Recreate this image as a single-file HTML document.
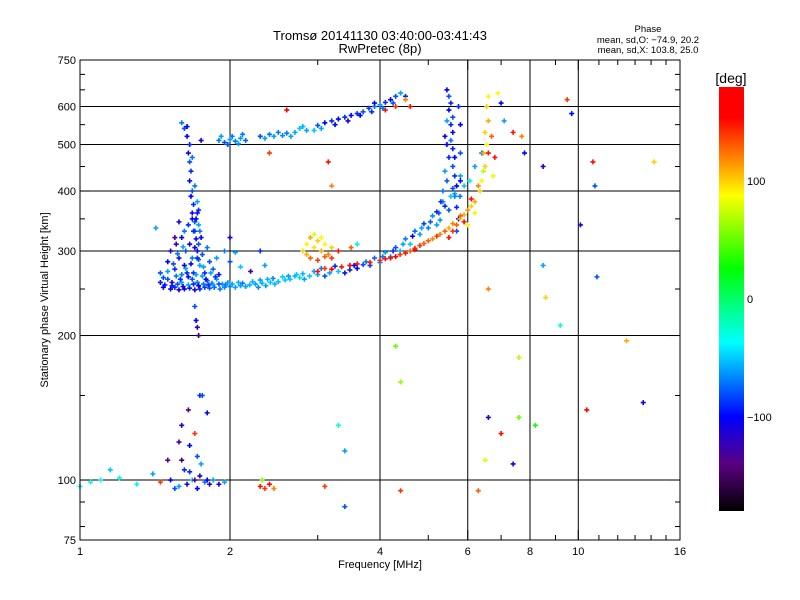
<!DOCTYPE html>
<html><head><meta charset="utf-8"><style>
body{margin:0;background:#fff;}
svg{display:block;font-family:"Liberation Sans",sans-serif;}
</style></head><body>
<svg id="chart" width="800" height="600" viewBox="0 0 800 600">
<rect width="800" height="600" fill="#fff"/>
<text x="380" y="40" font-size="13" text-anchor="middle">Tromsø 20141130 03:40:00-03:41:43</text>
<text x="380" y="53" font-size="13" text-anchor="middle">RwPretec (8p)</text>
<text x="648" y="32" font-size="9.5" text-anchor="middle">Phase</text>
<text x="648" y="43" font-size="9.5" text-anchor="middle">mean, sd,O: −74.9, 20.2</text>
<text x="648" y="53" font-size="9.5" text-anchor="middle">mean, sd,X: 103.8, 25.0</text>
<text x="380" y="568" font-size="11" text-anchor="middle">Frequency [MHz]</text>
<text x="48" y="300" font-size="11" text-anchor="middle" transform="rotate(-90 48 300)">Stationary phase Virtual Height [km]</text>
<g id="grid"></g>
<g id="marks"></g>
<g id="axes"></g>
<g id="cbar"></g>
<text x="731" y="83" font-size="14" text-anchor="middle">[deg]</text>
</svg>
<script>
const xTicks=[1,2,4,6,8,10,16];
const yTicks=[75,100,200,300,400,500,600,750];
const xGrid=[2,4,6,8,10];
const yGrid=[100,200,300,400,500,600];
const cbTicks=[100,0,-100];
// O-mode low trace [freq MHz, height km, phase deg]
const traceLow=[[1.45,258,-95],[1.48,255,-95],[1.5,262,-80],[1.52,250,-110],[1.55,252,-90],[1.56,266,-70],[1.58,249,-105],[1.6,258,-60],[1.62,250,-100],[1.64,270,-90],[1.66,251,-95],[1.68,262,-80],[1.70,249,-110],[1.72,258,-70],[1.74,250,-90],[1.76,266,-60],[1.78,252,-85],[1.8,260,-75],[1.82,251,-80],[1.84,257,-70],[1.86,252,-75],[1.88,262,-60],[1.91,250,-70],[1.93,256,-60],[1.95,252,-65],[1.98,258,-60],[2.0,253,-70],[2.05,252,-60],[2.08,258,-55],[2.10,254,-60],[2.15,253,-60],[2.19,255,-55],[2.25,256,-60],[2.28,252,-65],[2.32,257,-55],[2.36,254,-60],[2.41,258,-50],[2.46,256,-55],[2.50,259,-55],[2.58,261,-50],[2.64,262,-50],[2.7,266,-55],[2.76,264,-45],[2.82,262,-60],[2.89,266,-50],[3.0,268,-60],[3.1,266,-80],[3.17,270,-60],[3.3,272,-50],[3.4,270,-95],[3.48,274,-90],[3.6,276,-100],[3.7,281,-80],[3.82,280,-85],[3.9,290,-75],[4.0,284,-70],[4.1,298,-60],[4.2,292,-60],[4.3,305,-80],[4.39,300,-55],[4.5,318,-70],[4.6,310,-50],[4.7,330,-75],[4.81,325,-60],[4.9,342,-85],[5.0,335,-70],[5.1,355,-65],[5.28,348,-60],[5.4,372,-90],[5.5,365,-80],[5.65,395,-60],[5.79,390,-70],[5.9,410,-50],[6.06,420,-40],[6.2,450,-60],[6.4,480,-70]];
const traceLow2=[[1.47,252,-100],[1.53,254,-90],[1.57,256,-80],[1.61,253,-110],[1.65,255,-60],[1.69,256,-90],[1.73,254,-100],[1.77,256,-70],[1.81,255,-90],[1.85,255,-60],[1.9,256,-80],[1.96,255,-70],[2.02,256,-60],[2.12,257,-70],[2.22,259,-55],[2.3,261,-60],[2.38,262,-55],[2.44,263,-65],[2.55,265,-50],[2.62,266,-60],[2.72,268,-50],[2.8,269,-55],[2.95,272,-60],[3.05,276,-70],[3.25,279,-90],[3.55,280,-100],[3.75,285,-70],[4.05,292,-70],[4.25,300,-90],[4.45,310,-60],[4.65,322,-100],[4.85,335,-60],[5.05,345,-80],[5.2,362,-90],[5.35,380,-60],[5.6,405,-80],[5.8,430,-60]];
// Low-frequency cluster near 1.5-1.9 MHz
const clusterLF=[[1.45,270,-80],[1.5,285,-100],[1.52,300,-110],[1.55,275,-90],[1.56,310,-120],[1.58,290,-95],[1.6,268,-70],[1.6,320,-100],[1.62,280,-110],[1.63,300,-80],[1.65,265,-100],[1.65,340,-90],[1.66,310,-110],[1.68,290,-70],[1.69,270,-90],[1.7,330,-80],[1.72,300,-100],[1.72,360,-95],[1.74,280,-60],[1.75,320,-100],[1.76,295,-80],[1.78,270,-90],[1.8,305,-70],[1.82,285,-80],[1.85,275,-75],[1.88,290,-60],[1.9,268,-95],[1.95,300,-70],[2.0,285,-80],[2.05,298,-60],[2.1,278,-50],[2.0,320,-110],[2.2,272,-130],[2.3,300,-90],[2.35,280,-60],[1.42,335,-60],[1.47,264,-80],[1.53,258,-120],[1.5,272,-60],[1.54,282,-80],[1.57,296,-70],[1.59,262,-90],[1.61,306,-60],[1.63,276,-60],[1.67,282,-100],[1.71,268,-60],[1.73,288,-80],[1.77,278,-60],[1.79,262,-100],[1.83,270,-60],[1.87,265,-90],[1.62,330,-70],[1.68,350,-100],[1.73,340,-60],[1.55,320,-130],[1.58,345,-110]];
// Vertical band near 1.65 MHz
const vertLF=[[1.62,540,-80],[1.64,520,-100],[1.66,500,-90],[1.65,480,-110],[1.66,460,-80],[1.67,440,-90],[1.66,420,-100],[1.68,400,-80],[1.67,390,-100],[1.69,375,-90],[1.68,360,-110],[1.7,345,-80],[1.69,330,-90],[1.71,318,-100],[1.7,305,-110],[1.72,290,-90],[1.7,230,-80],[1.71,215,-100],[1.72,208,-120],[1.73,200,-150],[1.6,555,-70],[1.75,510,-110],[1.7,410,-70],[1.72,380,-60],[1.73,365,-90],[1.71,350,-100],[1.74,330,-70],[1.73,310,-80],[1.68,470,-70],[1.64,545,-100]];
// Upper trace
const traceHigh=[[1.9,510,-70],[1.95,505,-80],[2.0,512,-60],[2.05,508,-70],[2.1,515,-60],[2.15,510,-75],[2.3,520,-80],[2.4,525,-70],[2.45,520,-60],[2.55,522,-65],[2.6,528,-70],[2.7,530,-60],[2.76,540,-50],[2.85,535,-60],[2.95,535,-50],[3.0,548,-80],[3.1,555,-100],[3.2,560,-90],[3.3,565,-100],[3.4,570,-90],[3.5,575,-100],[3.6,580,-90],[3.7,585,-80],[3.8,595,-85],[3.9,600,-70],[4.0,605,-60],[4.1,612,-90],[4.2,620,-100],[4.3,630,-80],[4.4,640,-60],[4.5,630,-90],[4.1,590,150],[4.3,600,140],[4.5,620,120],[3.9,610,-100],[1.92,520,-60],[1.98,500,-80],[2.02,520,-70],[2.08,502,-60],[2.12,525,-70],[2.35,515,-60],[2.5,530,-70],[2.65,520,-60],[2.8,545,-55],[3.05,540,-60],[3.25,550,-100],[3.45,560,-110],[3.65,575,-100],[3.85,585,-90],[4.05,595,-70],[4.25,610,-80],[4.6,600,150]];
// Vertical band near 5.5 MHz
const vertHF=[[5.45,650,-100],[5.5,630,-80],[5.55,610,-90],[5.5,590,-100],[5.6,570,-80],[5.55,550,-90],[5.6,530,-110],[5.55,510,-70],[5.6,490,-90],[5.65,470,-100],[5.6,450,-80],[5.65,430,-90],[5.7,410,-100],[5.65,390,-70],[5.7,370,-90],[5.75,350,-100],[5.7,330,-80],[5.45,500,-100],[5.5,470,-90],[5.4,440,-60],[5.45,420,-80],[5.35,400,-70],[5.3,380,-90],[5.25,360,-80],[5.45,560,-60],[5.4,520,-110],[5.75,600,-90],[5.8,550,-100],[5.8,480,-80],[5.8,420,-100],[5.2,340,-60],[5.55,390,-50]];
// X-mode trace (orange/red/yellow)
const traceX=[[3.0,272,150],[3.1,276,140],[3.2,275,160],[3.35,278,150],[3.48,280,155],[3.6,282,150],[3.82,284,150],[4.0,287,145],[4.1,289,150],[4.2,290,150],[4.39,295,140],[4.5,297,150],[4.6,300,130],[4.7,304,140],[4.81,308,140],[4.9,311,130],[5.0,315,130],[5.1,318,120],[5.28,325,120],[5.4,330,130],[5.5,335,110],[5.6,342,120],[5.79,350,100],[5.9,357,110],[6.0,365,120],[6.1,372,100],[6.2,380,110],[6.35,400,100],[5.5,320,150],[5.6,330,140],[5.7,340,130],[5.9,345,150],[6.0,340,90],[6.2,360,80],[6.4,420,90],[6.5,450,100],[6.45,480,110],[6.55,500,90],[6.5,530,100],[6.6,560,110],[6.55,600,100],[6.6,630,90],[6.7,520,130],[6.8,470,150],[6.75,430,80],[4.3,292,160],[4.7,302,150],[5.2,322,140],[5.8,355,130],[6.1,385,150],[6.3,410,120],[6.45,440,70]];
// Yellow cluster near 3 MHz
const clusterY=[[2.8,300,100],[2.85,310,90],[2.9,320,110],[2.95,305,95],[3.0,315,100],[3.05,300,110],[3.1,310,90],[3.15,295,120],[3.2,305,100],[2.9,290,130],[3.0,287,140],[3.1,292,130],[3.3,300,150],[3.5,305,130],[3.6,310,-40],[2.85,295,110],[2.95,325,80],[3.05,320,90],[3.2,290,140]];
// Low-altitude cluster and scattered points
const clusterLow=[[1.0,97,-40],[1.05,99,-30],[1.1,100,-40],[1.15,105,-50],[1.2,101,-30],[1.3,98,-40],[1.4,103,-60],[1.45,99,140],[1.5,110,-140],[1.52,100,-100],[1.55,96,-80],[1.58,120,-130],[1.6,130,-120],[1.62,105,-90],[1.64,98,-110],[1.65,140,-140],[1.66,118,-100],[1.68,100,-50],[1.7,125,140],[1.72,112,-80],[1.74,102,-110],[1.76,150,-80],[1.78,99,-70],[1.8,138,-100],[1.82,98,-120],[1.85,100,-60],[1.6,110,-150],[1.7,100,-140],[1.75,108,-60],[2.3,97,150],[2.35,96,140],[2.4,98,170],[2.45,96,120],[2.32,100,60],[1.58,97,-60],[1.66,104,-90],[1.72,96,-100],[1.8,100,-100],[1.9,98,-110],[1.95,99,-60],[1.74,150,-90]];
const scatter=[[2.4,480,140],[3.15,460,150],[3.2,410,120],[2.6,590,170],[4.3,190,50],[4.4,160,60],[4.4,95,140],[3.4,88,-80],[3.4,115,-60],[3.3,130,-30],[3.1,97,140],[6.6,480,150],[6.6,250,120],[6.6,135,-120],[6.5,110,80],[7.0,125,150],[7.4,108,-110],[7.4,530,150],[7.7,520,120],[7.8,480,-100],[7.6,180,70],[7.6,135,50],[8.2,130,30],[8.5,450,-120],[8.5,280,-60],[8.6,240,100],[9.2,210,-30],[9.5,620,140],[9.7,580,-100],[10.1,340,-120],[10.7,460,150],[10.8,410,-80],[10.4,140,170],[10.9,265,-80],[12.5,195,110],[13.5,145,-110],[14.2,460,100],[6.3,95,130],[7.1,560,-60],[7.0,610,-100],[6.9,640,90]];
const allSeries=[traceLow,traceLow2,clusterLF,vertLF,traceHigh,vertHF,traceX,clusterY,clusterLow,scatter];

const L=80,R=680,T=60,B=540;
function xs(f){return L+Math.log2(f)/Math.log2(16)*(R-L);}
function ys(h){return B-Math.log10(h/75)/Math.log10(10)*(B-T);}
const stops=[[-180,0,0,0],[-140,90,0,130],[-100,0,0,255],[-37,0,255,255],[26,0,255,0],[88,255,255,0],[154,255,0,0],[180,255,0,0]];
function cmap(v){v=Math.max(-180,Math.min(180,v));for(let i=0;i<stops.length-1;i++){const a=stops[i],b=stops[i+1];if(v<=b[0]){const t=(v-a[0])/(b[0]-a[0]);return `rgb(${Math.round(a[1]+t*(b[1]-a[1]))},${Math.round(a[2]+t*(b[2]-a[2]))},${Math.round(a[3]+t*(b[3]-a[3]))})`;}}return 'red';}
const NS='http://www.w3.org/2000/svg';
function mk(tag,attrs,parent){const e=document.createElementNS(NS,tag);for(const k in attrs)e.setAttribute(k,attrs[k]);parent.appendChild(e);return e;}
const grid=document.getElementById('grid'),axes=document.getElementById('axes'),marks=document.getElementById('marks'),cbar=document.getElementById('cbar');
xGrid.forEach(f=>{const l=mk('line',{x1:xs(f),x2:xs(f),y1:T,y2:B,stroke:'#000','stroke-width':1},grid);

});
yGrid.forEach(h=>{const l=mk('line',{x1:L,x2:R,y1:ys(h),y2:ys(h),stroke:'#000','stroke-width':1},grid);

});
allSeries.forEach(s=>s.forEach(p=>{const x=xs(p[0]),y=ys(p[1]),c=cmap(p[2]);
const g=mk('path',{d:`M${x-2.5} ${y}h5M${x} ${y-2.5}v5`,stroke:c,'stroke-width':1.6},marks);

}));
const fr=mk('rect',{x:L,y:T,width:R-L,height:B-T,fill:'none',stroke:'#000','stroke-width':1},axes);


const xMinor=[3,5,7,9,11,12,13,14,15];
xTicks.concat(xMinor).forEach(f=>{const len=xTicks.includes(f)?10:5;const x=xs(f);mk('line',{x1:x,x2:x,y1:B,y2:B-len,stroke:'#000'},axes);mk('line',{x1:x,x2:x,y1:T,y2:T+len,stroke:'#000'},axes);});
const yMinor=[80,90,150,250,350,450,550,650,700];
yTicks.concat(yMinor).forEach(h=>{const len=yTicks.includes(h)?10:5;const y=ys(h);mk('line',{x1:L,x2:L+len,y1:y,y2:y,stroke:'#000'},axes);mk('line',{x1:R,x2:R-len,y1:y,y2:y,stroke:'#000'},axes);});
xTicks.forEach(f=>{const t=mk('text',{x:xs(f),y:B+15,'font-size':11,'text-anchor':'middle'},axes);t.textContent=f;

});
yTicks.forEach(h=>{const t=mk('text',{x:L-4,y:ys(h)+4,'font-size':11,'text-anchor':'end'},axes);t.textContent=h;

});
// colorbar
const cT=87,cB=511,cL=719,cW=25;
function cy(v){return cB-(v+180)/360*(cB-cT);}
const defs=mk('defs',{},cbar);const gr=mk('linearGradient',{id:'cg',x1:0,y1:1,x2:0,y2:0},defs);
stops.forEach(s=>mk('stop',{offset:(s[0]+180)/360,'stop-color':cmap(s[0])},gr));
const cr=mk('rect',{x:cL,y:cT,width:cW,height:cB-cT,fill:'url(#cg)'},cbar);


cbTicks.forEach(v=>{const t=mk('text',{x:cL+cW+3,y:cy(v)+4,'font-size':11},cbar);t.textContent=v<0?'−'+(-v):v;

});
</script>
</body></html>
